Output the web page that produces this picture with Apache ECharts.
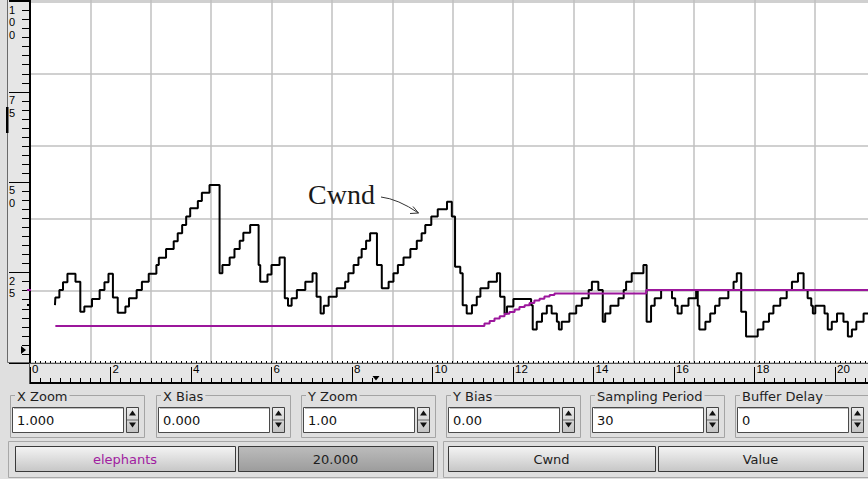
<!DOCTYPE html>
<html><head><meta charset="utf-8">
<script src="https://cdn.jsdelivr.net/npm/echarts@6.0.0/dist/echarts.min.js"></script>
<style>html,body{margin:0;padding:0;background:#dfdfdf;}#c{width:868px;height:479px;}</style>
</head><body><div id="c"></div>
<script>
// ---- data (time units on x, value units on y) ----
const cwndT = [0.62,0.63,0.73,0.82,0.93,1.13,1.25,1.35,1.54,1.73,1.85,1.95,2.06,2.18,2.37,2.46,2.65,2.78,2.95,3.14,3.20,3.38,3.57,3.67,3.78,3.88,3.98,4.17,4.27,4.46,4.71,4.78,4.96,5.08,5.21,5.30,5.47,5.68,5.72,5.90,6.00,6.20,6.33,6.41,6.50,6.63,6.84,7.02,7.12,7.22,7.30,7.42,7.62,7.83,7.91,8.04,8.16,8.24,8.35,8.45,8.62,8.74,8.91,9.03,9.14,9.28,9.45,9.61,9.73,9.82,9.97,10.13,10.36,10.48,10.56,10.69,10.75,10.85,10.98,11.10,11.19,11.39,11.60,11.68,11.79,11.85,12.01,12.45,12.49,12.59,12.72,12.84,12.96,13.09,13.14,13.21,13.40,13.57,13.71,13.88,13.96,14.12,14.23,14.29,14.42,14.62,14.75,14.81,14.95,15.24,15.32,15.43,15.52,15.68,15.95,16.03,16.09,16.19,16.36,16.55,16.59,16.63,16.78,16.90,17.02,17.13,17.35,17.48,17.56,17.67,17.79,18.08,18.22,18.36,18.47,18.64,18.80,18.93,19.08,19.22,19.32,19.41,19.45,19.51,19.74,19.82,19.92,20.05,20.21,20.32,20.42,20.53,20.71,20.82];
const cwndV = [16.0,18.1,20.2,22.3,24.7,22.5,14.2,15.6,17.7,20.2,22.3,24.7,18.1,13.9,15.6,17.9,20.2,22.5,24.7,27.1,29.1,31.5,33.7,35.9,38.2,40.5,42.8,44.8,47.1,49.2,24.8,27.1,29.2,31.5,33.8,36.0,38.2,27.1,22.5,24.5,27.1,29.2,17.9,15.8,17.9,20.2,22.5,24.8,18.3,13.7,15.8,18.3,20.7,22.5,24.8,27.1,29.2,31.5,33.8,35.9,27.1,20.7,22.5,24.8,27.1,29.2,31.5,33.8,35.9,38.2,40.5,42.5,44.6,40.5,26.6,24.8,16.0,13.7,16.0,18.3,20.7,22.5,24.8,18.3,13.7,15.6,17.7,16.0,9.3,11.4,13.7,15.8,13.7,11.4,9.3,11.4,13.7,15.8,17.9,20.2,22.5,20.2,11.4,13.7,15.8,17.9,20.2,22.5,24.8,27.1,11.4,15.8,17.9,20.2,17.9,15.8,13.7,15.8,17.9,20.2,15.8,9.3,11.4,13.7,15.8,17.9,20.2,22.5,24.8,14.2,7.3,9.3,11.4,13.7,15.8,17.9,20.2,22.5,24.8,20.2,17.9,15.8,13.7,15.8,13.7,9.3,11.4,13.7,11.4,7.3,9.3,11.4,13.7,13.7];
const elephT = [0.63,11.29,11.42,11.54,11.67,11.79,11.91,12.04,12.16,12.29,12.41,12.53,12.66,12.78,12.91,13.03,15.31,20.82];
const elephV = [10.2,10.9,11.6,12.3,12.9,13.6,14.1,14.8,15.5,16.0,16.6,17.3,17.8,18.4,18.8,19.2,20.2,20.2];
const xRulerLabels = ['0','2','4','6','8','10','12','14','16','18','20'];
const yRulerLabels = ['25','50','75','100'];
const controlLabels = ['X Zoom','X Bias','Y Zoom','Y Bias','Sampling Period','Buffer Delay'];
const controlValues = ['1.000','0.000','1.00','0.00','30','0'];
const buttonLabels = ['elephants','20.000','Cwnd','Value'];
const annotationText = 'Cwnd';

// ---- chart ----
const chart = echarts.init(document.getElementById('c'), null, {renderer:'svg', width:868, height:479});
const WIN = '#dfdfdf', RULER = '#e6e6e6', PURPLE = '#9c169c';
const X_MAX = 22;
const pairs = (a,b) => a.map((t,i)=>[t,b[i]]);

const xFmt = v => { const k = Math.round(v/2); return (Math.abs(v-2*k)<1e-6 && k>=0 && k<xRulerLabels.length) ? xRulerLabels[k] : ''; };
const yFmt = v => { const k = Math.round(v/25); return (Math.abs(v-25*k)<1e-6 && k>=1 && k<=yRulerLabels.length) ? yRulerLabels[k-1].split('').join('\n') : ''; };

const g = [];
// ruler panels
g.push({type:'rect', z:-10, shape:{x:7.5, y:-1, width:22, height:363.5}, style:{fill:RULER, stroke:'#6a6a6a', lineWidth:1}});
g.push({type:'rect', z:-10, shape:{x:30, y:363, width:840, height:20}, style:{fill:RULER}});
g.push({type:'line', z:5, shape:{x1:29.5, y1:363, x2:29.5, y2:384}, style:{stroke:'#555', lineWidth:1}});
// ruler markers
g.push({type:'rect', z:20, shape:{x:6, y:107, width:2.5, height:26}, style:{fill:'#000'}});
g.push({type:'polygon', z:20, shape:{points:[[21,346],[21,354],[26,350]]}, style:{fill:'#000'}});
g.push({type:'polygon', z:20, shape:{points:[[372.5,376],[379.5,376],[376,380.5]]}, style:{fill:'#000'}});
g.push({type:'rect', z:20, shape:{x:27, y:289, width:4, height:2}, style:{fill:PURPLE}});
g.push({type:'rect', z:20, shape:{x:27, y:304, width:4, height:2}, style:{fill:'#000'}});
// annotation
g.push({type:'text', z:30, style:{text:annotationText, x:308, y:194, font:'28px "Liberation Serif"', fill:'#1a1a1a', verticalAlign:'middle'}});
g.push({type:'bezierCurve', z:30, shape:{x1:381, y1:197, x2:418.5, y2:213, cpx1:398, cpy1:199}, style:{stroke:'#333', lineWidth:1, fill:'none'}});
g.push({type:'polyline', z:30, shape:{points:[[413,206.5],[418.5,213],[410,213.5]]}, style:{stroke:'#333', lineWidth:1, fill:'none'}});

// controls
const FONT = '13px "DejaVu Sans"';
const x0s = [12,158,303,448,592,737];
const grad = (a,b) => new echarts.graphic.LinearGradient(0,0,0,1,[{offset:0,color:a},{offset:1,color:b}]);
controlLabels.forEach((lab,i)=>{
  const x0 = x0s[i];
  g.push({type:'rect', z:50, shape:{x:x0-1.5, y:395.5, width:134, height:42}, style:{fill:'none', stroke:'#a4a4a4', lineWidth:1}});
  g.push({type:'text', z:51, style:{text:lab, x:x0+3, y:396, font:FONT, fill:'#1e1e1e', verticalAlign:'middle', backgroundColor:WIN, padding:[0,2,0,2]}});
  g.push({type:'rect', z:50, shape:{x:x0+0.5, y:407.5, width:111, height:25}, style:{fill:'#fff', stroke:'#4a4a4a', lineWidth:1}});
  g.push({type:'line', z:51, shape:{x1:x0+2, y1:408.5, x2:x0+111, y2:408.5}, style:{stroke:'#bdbdbd', lineWidth:1}});
  g.push({type:'text', z:51, style:{text:controlValues[i], x:x0+5, y:420.5, font:FONT, fill:'#111', verticalAlign:'middle'}});
  g.push({type:'rect', z:50, shape:{x:x0+114.5, y:407.5, width:12, height:25}, style:{fill:grad('#ececec','#c2c2c2'), stroke:'#444', lineWidth:1}});
  g.push({type:'line', z:51, shape:{x1:x0+115, y1:420, x2:x0+126, y2:420}, style:{stroke:'#666', lineWidth:1}});
  g.push({type:'polygon', z:51, shape:{points:[[x0+117,415.5],[x0+124,415.5],[x0+120.5,410.5]]}, style:{fill:'#111'}});
  g.push({type:'polygon', z:51, shape:{points:[[x0+117,422.5],[x0+124,422.5],[x0+120.5,427.5]]}, style:{fill:'#111'}});
});
// bottom row frames
g.push({type:'rect', z:50, shape:{x:8.5, y:441.5, width:429, height:36}, style:{fill:'none', stroke:'#a8a8a8', lineWidth:1}});
g.push({type:'rect', z:50, shape:{x:443.5, y:441.5, width:430, height:36}, style:{fill:'none', stroke:'#a8a8a8', lineWidth:1}});
const btns = [[15,235],[238,433],[448,655],[658,863]];
buttonLabels.forEach((lab,i)=>{
  const [a,b] = btns[i];
  const dark = i===1;
  g.push({type:'rect', z:52, shape:{x:a+0.5, y:446.5, width:b-a, height:25}, style:{fill: dark ? grad('#bcbcbc','#9c9c9c') : grad('#f4f4f4','#c6c6c6'), stroke:'#3a3a3a', lineWidth:1}});
  g.push({type:'text', z:53, style:{text:lab, x:(a+b)/2, y:459.5, font:FONT, fill: i===0 ? '#a020a0' : '#1e1e1e', align:'center', verticalAlign:'middle'}});
});

const option = {
  backgroundColor: WIN,
  animation: false,
  grid: {left:30, top:0, width:X_MAX*40.25, height:363, show:true, backgroundColor:'#fff', borderWidth:0, outerBoundsMode:'none'},
  xAxis: [
    {type:'value', min:0, max:X_MAX, interval:1.5, position:'bottom',
     axisLine:{show:true, onZero:false, lineStyle:{color:'#555', width:1}}, axisTick:{show:false}, axisLabel:{show:false},
     splitLine:{show:true, lineStyle:{color:'#c0c0c0', width:1.5}}},
    {type:'value', min:0, max:X_MAX, interval:2, position:'bottom', offset:20,
     axisLine:{show:true, onZero:false, lineStyle:{color:'#000', width:2}},
     axisTick:{show:true, inside:true, length:16, lineStyle:{color:'#000', width:1}},
     minorTick:{show:true, splitNumber:8, length:5, lineStyle:{color:'#000', width:1}},
     axisLabel:{show:true, inside:true, margin:8, align:'left', verticalAlign:'bottom', padding:[0,0,0,2], fontSize:11.5, fontFamily:'Liberation Sans', color:'#000', formatter:xFmt},
     splitLine:{show:false}},
    {type:'value', min:0, max:X_MAX, interval:2, position:'bottom', offset:20,
     axisLine:{show:false}, axisTick:{show:true, inside:true, length:2, lineStyle:{color:'#000', width:1}},
     minorTick:{show:true, splitNumber:16, length:2, lineStyle:{color:'#000', width:1}},
     axisLabel:{show:false}, splitLine:{show:false}}
  ],
  yAxis: [
    {type:'value', min:0, max:100.4, interval:20, position:'left',
     axisLine:{show:false}, axisTick:{show:false}, axisLabel:{show:false},
     splitLine:{show:true, lineStyle:{color:'#c0c0c0', width:1.5}}},
    {type:'value', min:0, max:100.4, interval:25, position:'left',
     axisLine:{show:true, onZero:false, lineStyle:{color:'#000', width:2}},
     axisTick:{show:true, length:21, lineStyle:{color:'#000', width:1}},
     minorTick:{show:true, splitNumber:10, length:8, lineStyle:{color:'#000', width:1}},
     axisLabel:{show:true, margin:21, align:'left', verticalAlign:'top', padding:[2,0,0,0], lineHeight:12.5, fontSize:11, fontFamily:'Liberation Sans', color:'#000', formatter:yFmt},
     splitLine:{show:false}}
  ],
  series: [
    {name:'Cwnd', type:'line', step:'end', xAxisIndex:0, yAxisIndex:0, data:pairs(cwndT,cwndV), showSymbol:false, symbol:'none', lineStyle:{color:'#000', width:2}, z:3},
    {name:'elephants', type:'line', step:'end', xAxisIndex:0, yAxisIndex:0, data:pairs(elephT,elephV), showSymbol:false, symbol:'none', lineStyle:{color:PURPLE, width:2}, z:4}
  ],
  graphic: g
};
chart.setOption(option);
</script></body></html>
